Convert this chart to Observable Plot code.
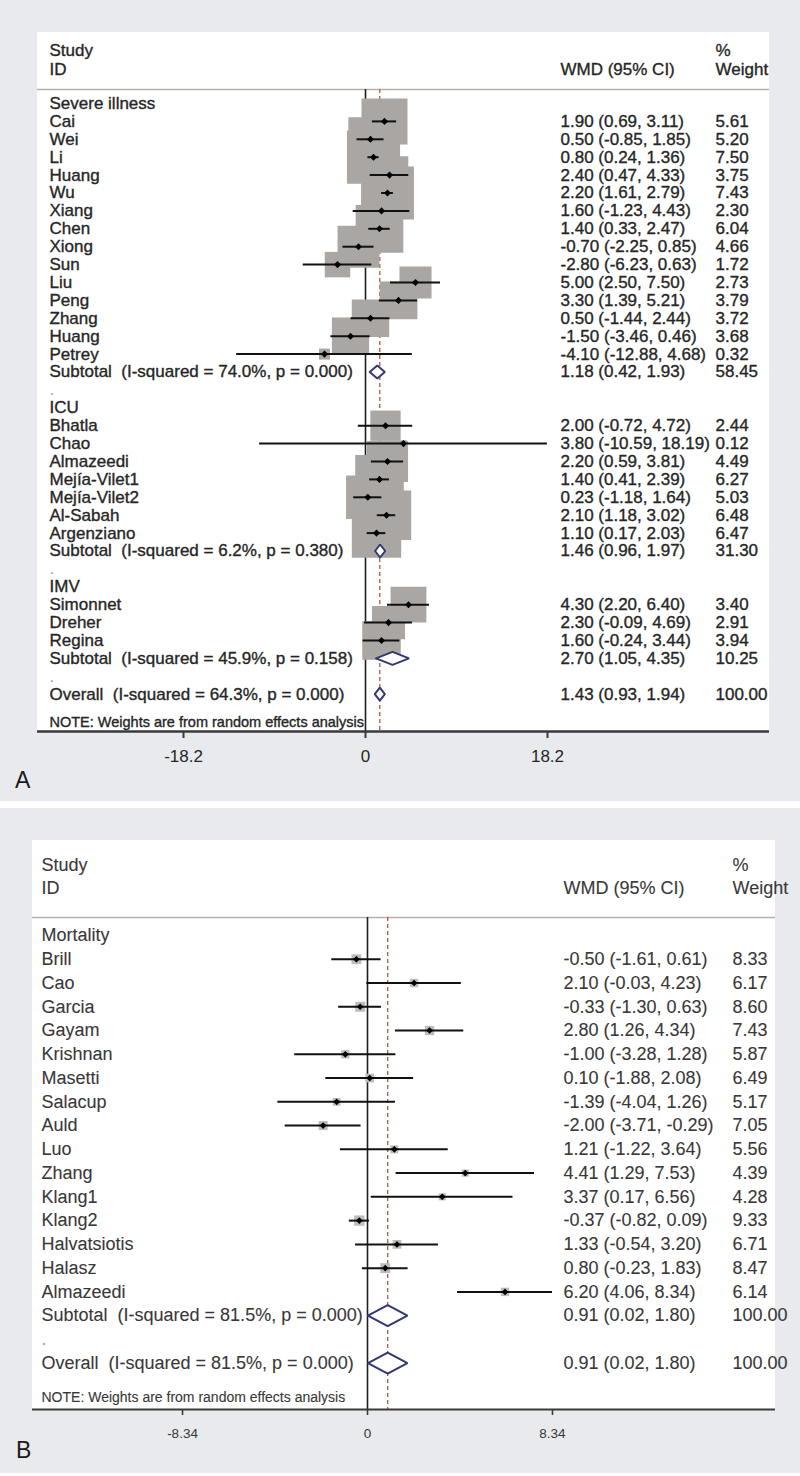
<!DOCTYPE html>
<html><head><meta charset="utf-8">
<script src="https://cdn.jsdelivr.net/npm/d3@7"></script>
<script src="https://cdn.jsdelivr.net/npm/@observablehq/plot@0.6"></script>
<style>
body{margin:0;background:#fff;}
#root{position:relative;width:800px;height:1476px;font-family:"Liberation Sans",Arial,Helvetica,sans-serif;overflow:hidden;}
.bg{position:absolute;background:#e8eaed;}
.box{position:absolute;background:#fff;}
.chart{position:absolute;}
.chart svg{background:transparent;overflow:visible;max-width:none;}
.tag{position:absolute;font-size:23px;line-height:1;color:#1a1a1a;}
</style></head>
<body><div id="root">
<div class="bg" style="left:0;top:0;width:800px;height:801px"></div>
<div class="box" style="left:37px;top:32px;width:732px;height:699px"></div>
<div class="chart" id="chartA" style="left:37px;top:32px"></div>
<div class="tag" style="left:15px;top:769px">A</div>
<div class="bg" style="left:0;top:808px;width:800px;height:665px"></div>
<div class="box" style="left:32px;top:840px;width:743px;height:569px"></div>
<div class="chart" id="chartB" style="left:32px;top:840px"></div>
<div class="tag" style="left:16px;top:1439px">B</div>
</div>
<script>
// ---------------- Panel A data ----------------
const groupsA = ["Severe illness", "ICU", "IMV"];
const studyA = ["Cai","Wei","Li","Huang","Wu","Xiang","Chen","Xiong","Sun","Liu","Peng","Zhang","Huang","Petrey",
  "Bhatla","Chao","Almazeedi","Mejía-Vilet1","Mejía-Vilet2","Al-Sabah","Argenziano",
  "Simonnet","Dreher","Regina"];
const studyGroupA = [0,0,0,0,0,0,0,0,0,0,0,0,0,0, 1,1,1,1,1,1,1, 2,2,2];
const wmdA   = [1.90,0.50,0.80,2.40,2.20,1.60,1.40,-0.70,-2.80,5.00,3.30,0.50,-1.50,-4.10, 2.00,3.80,2.20,1.40,0.23,2.10,1.10, 4.30,2.30,1.60];
const lowerA = [0.69,-0.85,0.24,0.47,1.61,-1.23,0.33,-2.25,-6.23,2.50,1.39,-1.44,-3.46,-12.88, -0.72,-10.59,0.59,0.41,-1.18,1.18,0.17, 2.20,-0.09,-0.24];
const upperA = [3.11,1.85,1.36,4.33,2.79,4.43,2.47,0.85,0.63,7.50,5.21,2.44,0.46,4.68, 4.72,18.19,3.81,2.39,1.64,3.02,2.03, 6.40,4.69,3.44];
const weightA = [5.61,5.20,7.50,3.75,7.43,2.30,6.04,4.66,1.72,2.73,3.79,3.72,3.68,0.32, 2.44,0.12,4.49,6.27,5.03,6.48,6.47, 3.40,2.91,3.94];
const subLabelA = ["Subtotal\u00a0 (I-squared = 74.0%, p = 0.000)", "Subtotal\u00a0 (I-squared = 6.2%, p = 0.380)", "Subtotal\u00a0 (I-squared = 45.9%, p = 0.158)"];
const subWmdA = [1.18, 1.46, 2.70];
const subLowerA = [0.42, 0.96, 1.05];
const subUpperA = [1.93, 1.97, 4.35];
const subWeightA = [58.45, 31.30, 10.25];
const overallLabelA = "Overall\u00a0 (I-squared = 64.3%, p = 0.000)";
const overallWmdA = 1.43, overallLowerA = 0.93, overallUpperA = 1.94, overallWeightA = 100.00;
const ticksA = [-18.2, 0, 18.2];
const tickLabelsA = ["-18.2", "0", "18.2"];

// ---------------- Panel B data ----------------
const groupsB = ["Mortality"];
const studyB = ["Brill","Cao","Garcia","Gayam","Krishnan","Masetti","Salacup","Auld","Luo","Zhang","Klang1","Klang2","Halvatsiotis","Halasz","Almazeedi"];
const studyGroupB = [0,0,0,0,0,0,0,0,0,0,0,0,0,0,0];
const wmdB   = [-0.50,2.10,-0.33,2.80,-1.00,0.10,-1.39,-2.00,1.21,4.41,3.37,-0.37,1.33,0.80,6.20];
const lowerB = [-1.61,-0.03,-1.30,1.26,-3.28,-1.88,-4.04,-3.71,-1.22,1.29,0.17,-0.82,-0.54,-0.23,4.06];
const upperB = [0.61,4.23,0.63,4.34,1.28,2.08,1.26,-0.29,3.64,7.53,6.56,0.09,3.20,1.83,8.34];
const weightB = [8.33,6.17,8.60,7.43,5.87,6.49,5.17,7.05,5.56,4.39,4.28,9.33,6.71,8.47,6.14];
const subLabelB = ["Subtotal\u00a0 (I-squared = 81.5%, p = 0.000)"];
const subWmdB = [0.91];
const subLowerB = [0.02];
const subUpperB = [1.80];
const subWeightB = [100.00];
const overallLabelB = "Overall\u00a0 (I-squared = 81.5%, p = 0.000)";
const overallWmdB = 0.91, overallLowerB = 0.02, overallUpperB = 1.80, overallWeightB = 100.00;
const ticksB = [-8.34, 0, 8.34];
const tickLabelsB = ["-8.34", "0", "8.34"];

const headerTexts = ["Study", "ID", "WMD (95% CI)", "%", "Weight"];
const noteText = "NOTE: Weights are from random effects analysis";

// ---------------- build rows ----------------
function buildRows(groups, studies, studyGroup, est, lo, hi, w, subLabel, subEst, subLo, subHi, subW, ovLabel, ovEst, ovLo, ovHi, ovW) {
  const rows = [];
  let r = 0;
  groups.forEach((g, gi) => {
    rows.push({row: r++, type: "group", label: g});
    studies.forEach((s, i) => {
      if (studyGroup[i] === gi) rows.push({row: r++, type: "study", label: s, est: est[i], lo: lo[i], hi: hi[i], w: w[i]});
    });
    rows.push({row: r++, type: "sub", label: subLabel[gi], est: subEst[gi], lo: subLo[gi], hi: subHi[gi], w: subW[gi]});
    rows.push({row: r++, type: "blank", label: "."});
  });
  rows.push({row: r++, type: "overall", label: ovLabel, est: ovEst, lo: ovLo, hi: ovHi, w: ovW});
  return rows;
}

const FONT = "Liberation Sans, Arial, Helvetica, sans-serif";

function forest(rows, L, ticks, tickLabels) {
  const px2x = px => (px - L.zeroPx) / L.ppu;
  const py2y = py => (py - L.row0) / L.step;
  const yBottom = py2y(L.frameH);
  const yHeader = py2y(L.headerLineY);
  const studies = rows.filter(d => d.type === "study");
  const pooled = rows.filter(d => d.type === "sub" || d.type === "overall");
  const overall = rows.find(d => d.type === "overall");
  const effects = rows.filter(d => d.est !== undefined);
  const hd = L.diamondHalf / L.step;
  const diamonds = pooled.flatMap(d => [[d.lo, 0], [d.est, -hd], [d.hi, 0], [d.est, hd], [d.lo, 0]]
    .map(([vx, dy]) => ({id: d.row, vx, vy: d.row + dy})));
  const fmt = v => v.toFixed(2);
  const headers = [
    {t: headerTexts[0], cx: L.labelPx, cy: L.studyY},
    {t: headerTexts[1], cx: L.labelPx, cy: L.idY},
    {t: headerTexts[2], cx: L.wmdPx, cy: L.idY},
    {t: headerTexts[3], cx: L.weightPx, cy: L.studyY},
    {t: headerTexts[4], cx: L.weightPx, cy: L.idY}
  ];
  const textStyle = {textAnchor: "start", fontSize: L.font, fontFamily: FONT, fill: L.textColor,
    stroke: L.textColor, strokeWidth: L.textStroke};
  return Plot.plot({
    width: L.width,
    height: L.frameH + L.marginBottom,
    marginTop: 0, marginLeft: 0, marginRight: 0, marginBottom: L.marginBottom,
    style: {background: "transparent", overflow: "visible", maxWidth: "none", fontFamily: FONT},
    x: {domain: [px2x(0), px2x(L.width)]},
    y: {domain: [py2y(0), yBottom], reverse: true, axis: null},
    r: {type: "sqrt", domain: [0, 1], range: [0, L.boxK]},
    marks: [
      Plot.ruleY([yHeader], {stroke: L.headerLineColor, strokeWidth: 1.6}),
      Plot.ruleX([0], {y1: yHeader, y2: yBottom, stroke: "#1e1e1e", strokeWidth: 1.6}),
      Plot.ruleX([overall.est], {y1: yHeader, y2: yBottom, stroke: "#b4533f", strokeWidth: 1.3, strokeDasharray: "4,3"}),
      Plot.dot(studies, {x: "est", y: "row", r: "w", symbol: "square", fill: L.boxFill}),
      Plot.ruleY(studies, {y: "row", x1: "lo", x2: "hi", stroke: "#111", strokeWidth: L.ciWidth}),
      Plot.dot(studies, {x: "est", y: "row", r: L.pointR, symbol: "diamond2", fill: "#000"}),
      Plot.line(diamonds, {x: "vx", y: "vy", z: "id", stroke: "#323872", strokeWidth: 2, fill: "white", strokeLinejoin: "miter"}),
      Plot.text(headers, {x: d => px2x(d.cx), y: d => py2y(d.cy), text: "t", ...textStyle}),
      Plot.text(rows.filter(d => d.type !== "blank"), {x: () => px2x(L.labelPx), y: "row", text: "label", ...textStyle}),
      Plot.text(rows.filter(d => d.type === "blank"), {x: () => px2x(L.labelPx), y: "row", text: "label", textAnchor: "start", fontSize: L.font, fontFamily: FONT, fill: "#a0a0a0"}),
      Plot.text(effects, {x: () => px2x(L.wmdPx), y: "row", text: d => `${fmt(d.est)} (${fmt(d.lo)}, ${fmt(d.hi)})`, ...textStyle}),
      Plot.text(effects, {x: () => px2x(L.weightPx), y: "row", text: d => fmt(d.w), ...textStyle}),
      Plot.text([noteText], {x: () => px2x(L.labelPx), y: () => py2y(L.noteY), text: d => d, ...textStyle, fontSize: L.noteFont}),
      Plot.ruleY([yBottom], {stroke: "#3a3a3a", strokeWidth: L.axisWidth}),
      Plot.axisX({ticks, tickFormat: d => tickLabels[ticks.indexOf(d)], tickSize: L.tickSize, tickPadding: L.tickPadding,
        fontSize: L.tickFont, fontFamily: FONT, stroke: "#3a3a3a", fill: L.textColor, strokeWidth: L.tickWidth})
    ]
  });
}

const layoutA = {
  width: 732, frameH: 699, marginBottom: 60,
  zeroPx: 328, ppu: 10, row0: 71, step: 17.9,
  labelPx: 12, wmdPx: 523, weightPx: 678,
  studyY: 18, idY: 37, headerLineY: 57, noteY: 690,
  font: 17, noteFont: 14.5, tickFont: 17, tickSize: 7, tickPadding: 11, tickWidth: 2, axisWidth: 2.4,
  textColor: "#262626", textStroke: 0.35, headerLineColor: "#bcaeaa",
  boxK: 10.95, boxFill: "#aaa6a3", pointR: 3.2, ciWidth: 2, diamondHalf: 6.5
};
const layoutB = {
  width: 743, frameH: 569, marginBottom: 60,
  zeroPx: 335, ppu: 22.18, row0: 95, step: 23.76,
  labelPx: 9, wmdPx: 531, weightPx: 700,
  studyY: 25, idY: 48, headerLineY: 77, noteY: 557,
  font: 18, noteFont: 14, tickFont: 13.5, tickSize: 6, tickPadding: 13, tickWidth: 1.6, axisWidth: 2,
  textColor: "#383838", textStroke: 0.1, headerLineColor: "#bcaeaa",
  boxK: 1.92, boxFill: "#bdbdbd", pointR: 3, ciWidth: 2, diamondHalf: 10.5
};

const rowsA = buildRows(groupsA, studyA, studyGroupA, wmdA, lowerA, upperA, weightA,
  subLabelA, subWmdA, subLowerA, subUpperA, subWeightA,
  overallLabelA, overallWmdA, overallLowerA, overallUpperA, overallWeightA);
const rowsB = buildRows(groupsB, studyB, studyGroupB, wmdB, lowerB, upperB, weightB,
  subLabelB, subWmdB, subLowerB, subUpperB, subWeightB,
  overallLabelB, overallWmdB, overallLowerB, overallUpperB, overallWeightB);

document.getElementById("chartA").appendChild(forest(rowsA, layoutA, ticksA, tickLabelsA));
document.getElementById("chartB").appendChild(forest(rowsB, layoutB, ticksB, tickLabelsB));
</script>
</body></html>
